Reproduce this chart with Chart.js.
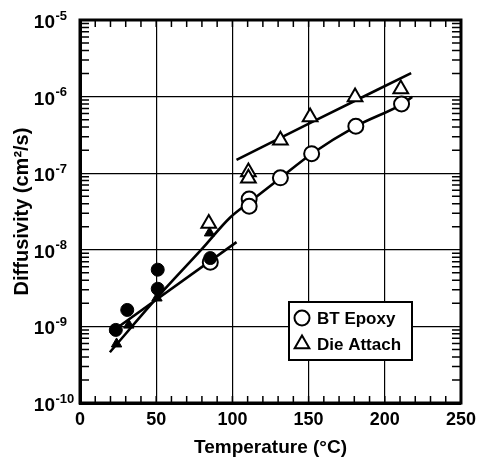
<!DOCTYPE html>
<html>
<head>
<meta charset="utf-8">
<script src="https://cdn.jsdelivr.net/npm/chart.js@4.4.0/dist/chart.umd.min.js"></script>
<style>
  body { margin: 0; background: #fff; }
  canvas { display: block; }
</style>
</head>
<body>
<canvas id="chart" width="482" height="462"></canvas>
<script>
// open symbols (legend series)
const epoxyTemp = [85.5, 111, 111, 131.5, 152, 181, 211];
const epoxyDiff = [6.9e-9, 4.6e-8, 3.7e-8, 8.7e-8, 1.8e-7, 4.1e-7, 8.0e-7];
const dieTemp = [84.5, 110.5, 110.5, 131.5, 151, 180.5, 210.5];
const dieDiff = [2.2e-8, 1.04e-7, 8.6e-8, 2.7e-7, 5.4e-7, 9.9e-7, 1.26e-6];

// filled symbols, low temperature runs
const epoxyLowTemp = [23.5, 31, 51, 51, 85.5];
const epoxyLowDiff = [9.0e-10, 1.64e-9, 5.5e-9, 3.1e-9, 7.8e-9];
const dieLowTemp = [24, 32, 50.5, 85];
const dieLowDiff = [5.9e-10, 1.04e-9, 2.35e-9, 1.66e-8];

// fitted curves
const fitATemp = [102.7, 151.8, 217.3];
const fitADiff = [1.49e-7, 4.6e-7, 2.03e-6];
const fitBTemp = [19.6, 50.4, 80.5, 98.2, 111.3, 131.5, 151.8, 181.3, 211.4, 218];
const fitBDiff = [4.6e-10, 2.35e-9, 1.05e-8, 2.6e-8, 4.2e-8, 8.65e-8, 1.78e-7, 4.13e-7, 8.0e-7, 9.9e-7];
const fitCTemp = [19.6, 102.7];
const fitCDiff = [8.2e-10, 1.26e-8];

const xTicks = [0, 50, 100, 150, 200, 250];
const yDecades = [-10, -9, -8, -7, -6, -5];

const FONT = "'Liberation Sans', Arial, Helvetica, sans-serif";

const pts = (xs, ys) => xs.map((x, i) => ({ x: x, y: ys[i] }));

const fitLine = (xs, ys) => ({
  type: 'line',
  data: pts(xs, ys),
  borderColor: '#000',
  borderWidth: 2.6,
  pointRadius: 0,
  cubicInterpolationMode: 'monotone',
  fill: false
});

// minor ticks, borders, y labels, y title, legend
const decorations = {
  id: 'decorations',
  afterDraw(chart) {
    const ctx = chart.ctx;
    const a = chart.chartArea;
    const xs = chart.scales.x, ys = chart.scales.y;
    ctx.save();
    ctx.strokeStyle = '#000';
    ctx.lineWidth = 1.5;
    ctx.beginPath();
    for (let v = 10; v < 250; v += 10) {
      const px = xs.getPixelForValue(v);
      ctx.moveTo(px, a.bottom); ctx.lineTo(px, a.bottom - 7);
      ctx.moveTo(px, a.top); ctx.lineTo(px, a.top + 7);
    }
    for (let e = -10; e < -5; e++) {
      for (let m = 2; m <= 9; m++) {
        const py = ys.getPixelForValue(m * Math.pow(10, e));
        ctx.moveTo(a.left, py); ctx.lineTo(a.left + 9, py);
        ctx.moveTo(a.right, py); ctx.lineTo(a.right - 9, py);
      }
    }
    ctx.stroke();

    // frame
    ctx.lineWidth = 3;
    ctx.strokeRect(a.left, a.top, a.right - a.left, a.bottom - a.top);

    // y tick labels 10^n
    ctx.fillStyle = '#000';
    ctx.textBaseline = 'alphabetic';
    yDecades.forEach(e => {
      const py = ys.getPixelForValue(Math.pow(10, e));
      ctx.font = 'bold 19px ' + FONT;
      ctx.textAlign = 'right';
      ctx.fillText('10', 55, py + 8);
      ctx.font = 'bold 13px ' + FONT;
      ctx.textAlign = 'left';
      ctx.fillText('-' + Math.abs(e), 55.5, py - 0.5);
    });

    // y title
    ctx.save();
    ctx.translate(22, (a.top + a.bottom) / 2);
    ctx.rotate(-Math.PI / 2);
    ctx.font = 'bold 20px ' + FONT;
    ctx.textAlign = 'center';
    ctx.textBaseline = 'middle';
    ctx.fillText('Diffusivity (cm²/s)', 0, 0);
    ctx.restore();

    // legend box
    const bx = a.left + 209, by = a.top + 282, bw = 123, bh = 58;
    ctx.fillStyle = '#fff';
    ctx.fillRect(bx, by, bw, bh);
    ctx.lineWidth = 2;
    ctx.strokeRect(bx, by, bw, bh);
    const entries = chart.data.datasets.filter(d => d.label);
    entries.forEach((d, i) => {
      const cy = by + 16 + i * 26;
      ctx.fillStyle = '#fff';
      ctx.strokeStyle = '#000';
      ctx.lineWidth = 2;
      Chart.helpers.drawPoint(ctx, {
        pointStyle: d.pointStyle,
        radius: d.pointStyle === 'triangle' ? 8.5 : 7.5,
        borderWidth: 2
      }, bx + 13, cy);
      ctx.fillStyle = '#000';
      ctx.font = 'bold 17px ' + FONT;
      ctx.textAlign = 'left';
      ctx.textBaseline = 'middle';
      ctx.fillText(d.label, bx + 28, cy + 1);
    });
    ctx.restore();
  }
};

new Chart(document.getElementById('chart'), {
  type: 'scatter',
  data: {
    datasets: [
      {
        data: pts(dieLowTemp, dieLowDiff),
        pointStyle: 'triangle', pointRadius: 6,
        backgroundColor: '#000', borderColor: '#000', borderWidth: 1
      },
      {
        data: pts(epoxyLowTemp, epoxyLowDiff),
        pointStyle: 'circle', pointRadius: 6.5,
        backgroundColor: '#000', borderColor: '#000', borderWidth: 1
      },
      {
        label: 'BT Epoxy',
        data: pts(epoxyTemp, epoxyDiff),
        pointStyle: 'circle', pointRadius: 7.5,
        backgroundColor: '#fff', borderColor: '#000', borderWidth: 2
      },
      {
        label: 'Die Attach',
        data: pts(dieTemp, dieDiff),
        pointStyle: 'triangle', pointRadius: 8.5,
        backgroundColor: '#fff', borderColor: '#000', borderWidth: 2
      },
      fitLine(fitATemp, fitADiff),
      fitLine(fitBTemp, fitBDiff),
      fitLine(fitCTemp, fitCDiff)
    ]
  },
  options: {
    responsive: false,
    animation: false,
    layout: { padding: { left: 0, right: 20, top: 20, bottom: 0 } },
    plugins: { legend: { display: false }, tooltip: { enabled: false } },
    scales: {
      x: {
        type: 'linear', min: 0, max: 250,
        afterBuildTicks: s => { s.ticks = xTicks.map(v => ({ value: v })); },
        afterFit: s => { s.height = 59; },
        grid: { color: '#000', lineWidth: 1.2, drawTicks: false },
        border: { display: true, color: '#000', width: 3 },
        ticks: { color: '#000', padding: 6, maxRotation: 0, font: { family: FONT, size: 18, weight: 'bold' } },
        title: { display: true, text: 'Temperature (°C)', color: '#000', padding: { top: 0, bottom: 3 }, font: { family: FONT, size: 19, weight: 'bold' } }
      },
      y: {
        type: 'logarithmic', min: 1e-10, max: 1e-5,
        afterBuildTicks: s => { s.ticks = yDecades.map(e => ({ value: Math.pow(10, e) })); },
        afterFit: s => { s.width = 80; },
        grid: { color: '#000', lineWidth: 1.2, drawTicks: false },
        border: { display: true, color: '#000', width: 3 },
        ticks: { display: false }
      }
    }
  },
  plugins: [decorations]
});
</script>
</body>
</html>
